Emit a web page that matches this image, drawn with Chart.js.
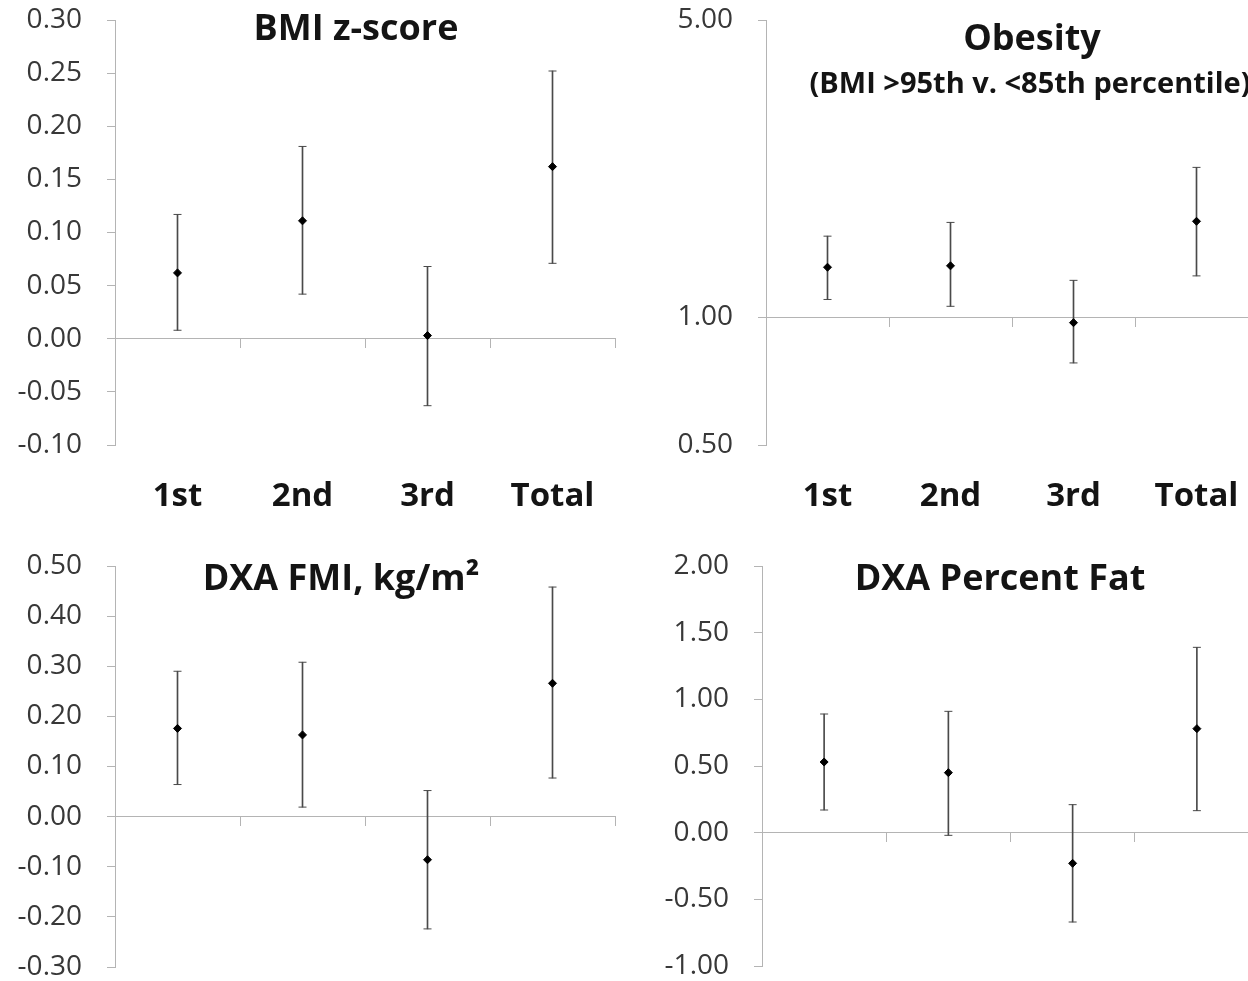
<!DOCTYPE html>
<html>
<head>
    <meta charset="utf-8"/>
    <title>Tertiles</title>
    <script src="https://cdn.jsdelivr.net/npm/chart.js@4/dist/chart.umd.min.js"></script>
    <style>
        body { margin: 0; width: 1248px; height: 981px; overflow: hidden; background: #fff; position: relative; font-family: "Open Sans", sans-serif; }
        canvas { position: absolute; }
        .title { position: absolute; transform: translate(-50%, -50%); font-weight: bold; font-size: 36px; line-height: 1; white-space: nowrap; color: #141414; }
        .sub { font-size: 29px; }
    </style>
</head>
<body>
    <canvas id="bmi" width="640" height="540" style="left:0;top:0"></canvas>
    <canvas id="obesity" width="640" height="540" style="left:640px;top:0"></canvas>
    <canvas id="fmi" width="640" height="540" style="left:0;top:540px"></canvas>
    <canvas id="fat" width="640" height="540" style="left:640px;top:540px"></canvas>

    <div class="title" style="left:356px;top:27px">BMI z-score</div>
    <div class="title" style="left:1032px;top:37px">Obesity</div>
    <div class="title sub" style="left:1030px;top:81px">(BMI &gt;95th v. &lt;85th percentile)</div>
    <div class="title" style="left:341px;top:577px">DXA FMI, kg/m²</div>
    <div class="title" style="left:1000px;top:577px">DXA Percent Fat</div>

    <script>
        const categories = ['1st', '2nd', '3rd', 'Total'];

        // BMI z-score, estimate with 95% CI
        const bmiEst = [0.062, 0.111, 0.003, 0.162];
        const bmiLow = [0.008, 0.042, -0.063, 0.071];
        const bmiHigh = [0.117, 0.181, 0.068, 0.252];

        // obesity odds ratio (log axis)
        const obesityEst = [1.31, 1.32, 0.97, 1.68];
        const obesityLow = [1.10, 1.06, 0.78, 1.25];
        const obesityHigh = [1.55, 1.67, 1.22, 2.25];
        const obesityTicks = [0.5, 1, 5];

        // DXA fat mass index
        const fmiEst = [0.176, 0.163, -0.086, 0.266];
        const fmiLow = [0.064, 0.019, -0.224, 0.077];
        const fmiHigh = [0.290, 0.308, 0.052, 0.458];

        // DXA percent fat
        const fatEst = [0.53, 0.45, -0.23, 0.78];
        const fatLow = [0.17, -0.02, -0.67, 0.165];
        const fatHigh = [0.89, 0.91, 0.21, 1.39];

        const barColor = '#4a4a4a';
        const axisColor = '#b4b4b4';

        function errorSets(est, low, high) {
            return [
                { type: 'line', data: est, showLine: false, pointStyle: 'rectRot', pointRadius: 4,
                  pointBackgroundColor: '#000', pointBorderColor: '#000', pointBorderWidth: 1, order: 0 },
                { type: 'line', data: high, showLine: false, pointStyle: 'line', pointRadius: 4,
                  pointBorderColor: barColor, pointBorderWidth: 1, order: 1 },
                { type: 'line', data: low, showLine: false, pointStyle: 'line', pointRadius: 4,
                  pointBorderColor: barColor, pointBorderWidth: 1, order: 1 },
                { type: 'bar', data: categories.map((c, i) => [low[i], high[i]]),
                  backgroundColor: barColor, barThickness: 1, grouped: false, order: 2 }
            ];
        }

        function makePanel(id, opts) {
            const yScale = Object.assign({
                position: 'left',
                border: { color: axisColor },
                grid: { drawOnChartArea: false, drawTicks: true, tickLength: 8, color: axisColor },
                ticks: {
                    padding: 25,
                    stepSize: opts.step,
                    color: '#383838',
                    font: { family: 'Open Sans', size: 28 },
                    callback: v => Number(v).toFixed(2)
                },
                afterFit: s => {
                    s.width = opts.yWidth;
                    // chart area is fixed by layout padding only
                    s.paddingTop = 0;
                    s.paddingBottom = 0;
                }
            }, opts.y);

            new Chart(document.getElementById(id), {
                type: 'bar',
                data: { labels: categories, datasets: errorSets(opts.est, opts.low, opts.high) },
                options: {
                    responsive: false,
                    animation: false,
                    layout: { padding: opts.padding },
                    plugins: { legend: { display: false }, tooltip: { enabled: false } },
                    scales: {
                        x: {
                            offset: true,
                            border: { display: false },
                            grid: { display: false, drawTicks: false },
                            ticks: {
                                padding: 32,
                                color: '#141414',
                                font: { family: 'Open Sans', size: 33, weight: 'bold' }
                            },
                            afterFit: s => { s.height = 95; }
                        },
                        // horizontal axis line crossing at the reference value
                        x0: {
                            type: 'category',
                            position: { y: opts.cross },
                            offset: true,
                            border: { color: axisColor },
                            grid: { offset: true, drawOnChartArea: false, drawTicks: true, tickLength: 9, color: axisColor },
                            ticks: { display: false }
                        },
                        y: yScale
                    }
                }
            });
        }

        makePanel('bmi', {
            est: bmiEst, low: bmiLow, high: bmiHigh, cross: 0, yWidth: 115, step: 0.05,
            padding: { top: 20, right: 25, bottom: 0, left: 0 },
            y: { type: 'linear', min: -0.1, max: 0.3 }
        });
        makePanel('obesity', {
            est: obesityEst, low: obesityLow, high: obesityHigh, cross: 1, yWidth: 126,
            padding: { top: 20, right: 22, bottom: 0, left: 0 },
            y: {
                type: 'logarithmic', min: 0.5, max: 5,
                afterBuildTicks: s => { s.ticks = obesityTicks.map(v => ({ value: v })); }
            }
        });
        makePanel('fmi', {
            est: fmiEst, low: fmiLow, high: fmiHigh, cross: 0, yWidth: 115, step: 0.1,
            padding: { top: 26, right: 25, bottom: 18, left: 0 },
            y: { type: 'linear', min: -0.3, max: 0.5 }
        });
        makePanel('fat', {
            est: fatEst, low: fatLow, high: fatHigh, cross: 0, yWidth: 122, step: 0.5,
            padding: { top: 26, right: 21, bottom: 19, left: 0 },
            y: { type: 'linear', min: -1, max: 2 }
        });
    </script>
</body>
</html>
